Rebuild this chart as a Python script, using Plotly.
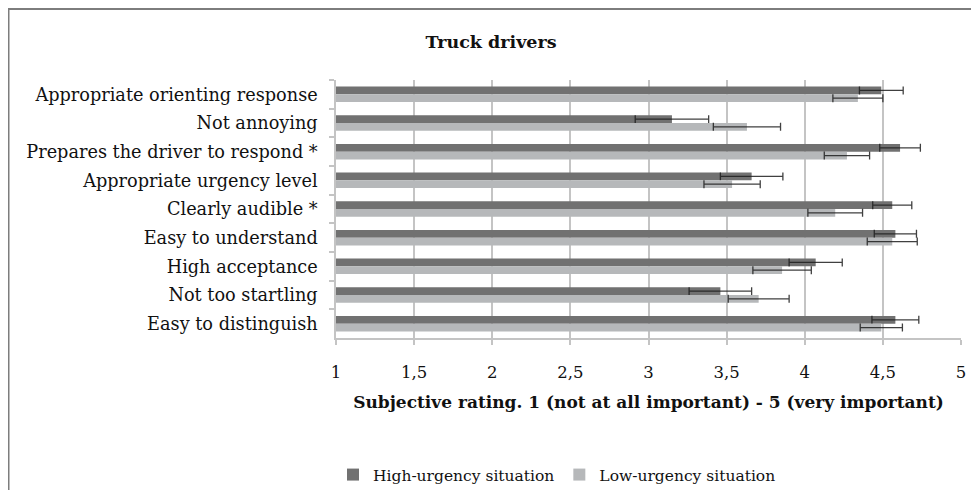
import plotly.graph_objects as go

categories = [
    "Appropriate orienting response",
    "Not annoying",
    "Prepares the driver to respond *",
    "Appropriate urgency level",
    "Clearly audible *",
    "Easy to understand",
    "High acceptance",
    "Not too startling",
    "Easy to distinguish",
]
high_values = [4.49, 3.15, 4.61, 3.66, 4.56, 4.58, 4.07, 3.46, 4.58]
high_errors = [0.14, 0.235, 0.13, 0.20, 0.125, 0.135, 0.17, 0.20, 0.15]
low_values = [4.34, 3.63, 4.27, 3.535, 4.195, 4.56, 3.855, 3.705, 4.49]
low_errors = [0.16, 0.215, 0.145, 0.18, 0.175, 0.16, 0.187, 0.195, 0.135]
x_tickvals = [1, 1.5, 2, 2.5, 3, 3.5, 4, 4.5, 5]
x_ticktext = ["1", "1,5", "2", "2,5", "3", "3,5", "4", "4,5", "5"]

FONT = "DejaVu Serif"
OFF = 8  # page body margin
W, H = 979 - OFF, 490 - OFF
L, T = 336 - OFF, 80 - OFF
R = W - (961 - OFF)
B = H - (338 - OFF)
pw, ph = W - L - R, H - T - B

def px_x(p):
    return (p - OFF - L) / pw

def px_y(p):
    return (H - B - (p - OFF)) / ph

err_style = dict(type="data", thickness=1.3, width=4, color="rgba(30,30,30,0.85)")

fig = go.Figure()
fig.add_trace(go.Bar(
    y=categories, x=high_values, orientation="h", name="High-urgency situation",
    marker=dict(color="#717171", line=dict(width=0)),
    error_x=dict(array=high_errors, **err_style),
))
fig.add_trace(go.Bar(
    y=categories, x=low_values, orientation="h", name="Low-urgency situation",
    marker=dict(color="#b6b8ba", line=dict(width=0)),
    error_x=dict(array=low_errors, **err_style),
))

fig.update_layout(
    width=W, height=H,
    margin=dict(l=L, r=R, t=T, b=B, autoexpand=False),
    paper_bgcolor="white", plot_bgcolor="white",
    barmode="group", bargap=0.46, bargroupgap=0,
    font=dict(family=FONT, size=17, color="#111111"),
    title=dict(text="<b>Truck drivers</b>", x=px_x(491), xref="paper", xanchor="center",
               y=1 - (42 - OFF) / H, yanchor="middle",
               font=dict(family=FONT, size=17.5, color="#111111")),
    legend=dict(orientation="h", x=px_x(333), xanchor="left", y=px_y(458), yanchor="top",
                font=dict(family=FONT, size=15.5, color="#111111"), traceorder="normal",
                itemwidth=30, bgcolor="rgba(0,0,0,0)"),
    showlegend=True,
)
fig.update_xaxes(
    range=[1, 5], tickvals=x_tickvals, ticktext=x_ticktext,
    showgrid=True, gridcolor="#c4c4c4", gridwidth=1.5,
    showline=True, linecolor="#c4c4c4", linewidth=1.5,
    ticks="outside", ticklen=5, tickcolor="#c4c4c4", tickwidth=1.5,
    tickfont=dict(family=FONT, size=16.5, color="#111111"),
    ticklabelstandoff=13, zeroline=False,
    title=dict(text="<b>Subjective rating. 1 (not at all important) - 5 (very important)</b>",
               font=dict(family=FONT, size=17, color="#111111"), standoff=16),
)
fig.update_yaxes(
    autorange="reversed", type="category",
    showgrid=False, showline=True, linecolor="#c4c4c4", linewidth=1.5,
    ticks="outside", ticklen=5, tickcolor="#c4c4c4", tickwidth=1.5, tickson="boundaries",
    tickfont=dict(family=FONT, size=17.7, color="#111111"), ticklabelstandoff=13,
)

# chart frame (left and top edges visible)
fig.add_shape(type="line", xref="paper", yref="paper",
              x0=px_x(OFF + 0.5), x1=px_x(OFF + 0.5), y0=px_y(495), y1=px_y(OFF + 1),
              line=dict(color="#7d7d7d", width=2))
fig.add_shape(type="line", xref="paper", yref="paper",
              x0=px_x(OFF), x1=px_x(990), y0=px_y(OFF + 1), y1=px_y(OFF + 1),
              line=dict(color="#7d7d7d", width=2))

fig.write_html("out.html")
